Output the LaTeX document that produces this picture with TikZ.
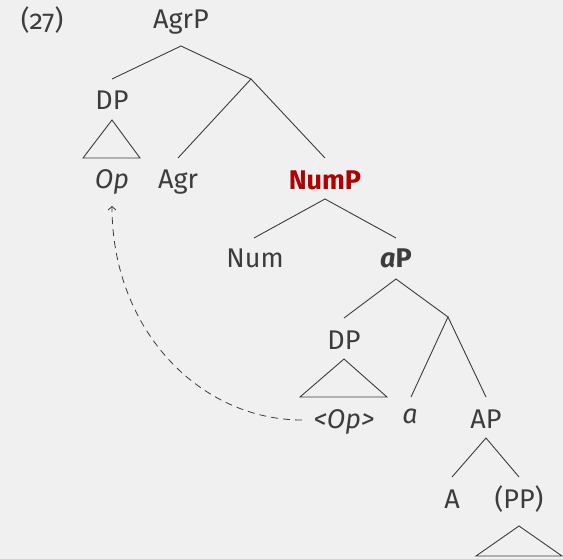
\documentclass[tikz,border=0pt]{standalone}
\usepackage{fontspec}
\setmainfont{Fira Sans}[Numbers=OldStyle]
\usetikzlibrary{arrows.meta}
\definecolor{bg}{HTML}{F0F0F0}
\definecolor{ink}{HTML}{3C3C3C}
\definecolor{hl}{HTML}{B00000}
\begin{document}
\begin{tikzpicture}[x=1pt,y=-1pt,
  lab/.style={anchor=base,inner sep=0pt,text=ink,font=\fontsize{27}{32}\selectfont},
  br/.style={draw=ink,line width=0.9pt},
  tri/.style={draw=ink,line width=0.9pt,line join=miter},
  mv/.style={draw=ink,line width=0.8pt,dash pattern=on 7pt off 5pt,-{Straight Barb[length=3.5pt,width=8pt,line width=0.8pt]}}]
\fill[bg] (0,0) rectangle (563,559);
\useasboundingbox (0,0) rectangle (563,559);
% labels
\node[lab] (ex) at (42,30) {(27)};
\node[lab] (agrp) at (181,29) {AgrP};
\node[lab] (dp1) at (112,110) {DP};
\node[lab] (op) at (112,189) {\itshape Op};
\node[lab] (agr) at (178,189) {Agr};
\node[lab,text=hl] (nump) at (325,190) {\bfseries NumP};
\node[lab] (num) at (255,268) {Num};
\node[lab] (ap1) at (396,268) {\bfseries\itshape a\upshape P};
\node[lab] (dp2) at (344,349) {DP};
\node[lab] (trace) at (344,428) {\itshape <Op>};
\node[lab] (a) at (410,423) {\itshape a};
\node[lab] (ap) at (486,428) {AP};
\node[lab] (adj) at (452,508) {A};
\node[lab] (pp) at (519,508) {(PP)};
% branch points
\coordinate (agrp-b) at (181,46);
\coordinate (dp1-t) at (112,79);
\coordinate (agrbar) at (251,79);
\coordinate (agr-t) at (178,158);
\coordinate (nump-t) at (325,158);
\coordinate (nump-b) at (325,199);
\coordinate (num-t) at (254,238);
\coordinate (ap1-t) at (396,238);
\coordinate (ap1-b) at (396,279);
\coordinate (dp2-t) at (344,318);
\coordinate (abar) at (448,317);
\coordinate (a-t) at (411,397);
\coordinate (ap-t) at (486,397);
\coordinate (ap-b) at (486,438);
\coordinate (adj-t) at (452,477);
\coordinate (pp-t) at (519,477);
% branches
\draw[br] (dp1-t) -- (agrp-b) -- (agrbar);
\draw[br] (agr-t) -- (agrbar) -- (nump-t);
\draw[br] (num-t) -- (nump-b) -- (ap1-t);
\draw[br] (dp2-t) -- (ap1-b) -- (abar);
\draw[br] (a-t) -- (abar) -- (ap-t);
\draw[br] (adj-t) -- (ap-b) -- (pp-t);
% triangles
\draw[tri] (112,120) -- (140,158) -- (83,158) -- cycle;
\draw[tri] (344,359) -- (387,397) -- (300,397) -- cycle;
\draw[tri] (519,526) -- (562,556) -- (476,556) -- cycle;
% movement
\coordinate (mv-s) at (302,420);
\coordinate (mv-e) at (112,206);
\draw[mv] (mv-s) .. controls (200,420) and (112,330) .. (mv-e);
\end{tikzpicture}
\end{document}
